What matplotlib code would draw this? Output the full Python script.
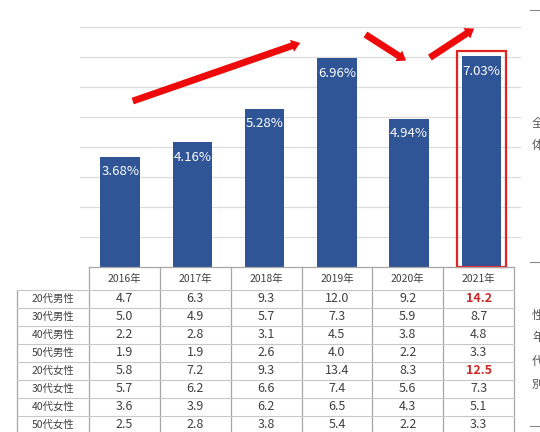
import matplotlib
matplotlib.use("Agg")
import matplotlib.pyplot as plt
from matplotlib.patches import Rectangle

plt.rcParams['font.family'] = ['Noto Sans CJK JP', 'DejaVu Sans']

years = ['2016年', '2017年', '2018年', '2019年', '2020年', '2021年']
rates = [3.68, 4.16, 5.28, 6.96, 4.94, 7.03]

groups = ['20代男性', '30代男性', '40代男性', '50代男性',
          '20代女性', '30代女性', '40代女性', '50代女性']
m20 = [4.7, 6.3, 9.3, 12.0, 9.2, 14.2]
m30 = [5.0, 4.9, 5.7, 7.3, 5.9, 8.7]
m40 = [2.2, 2.8, 3.1, 4.5, 3.8, 4.8]
m50 = [1.9, 1.9, 2.6, 4.0, 2.2, 3.3]
f20 = [5.8, 7.2, 9.3, 13.4, 8.3, 12.5]
f30 = [5.7, 6.2, 6.6, 7.4, 5.6, 7.3]
f40 = [3.6, 3.9, 6.2, 6.5, 4.3, 5.1]
f50 = [2.5, 2.8, 3.8, 5.4, 2.2, 3.3]
rows = [m20, m30, m40, m50, f20, f30, f40, f50]
# cells printed in red bold
highlight = [(0, 5), (4, 5)]

W, H = 540, 432
fig = plt.figure(figsize=(W / 100, H / 100), dpi=100)

# pixel layout of the chart / table block
left, right, base = 89, 514, 267
px_per_unit = 30.0
ax = fig.add_axes([left / W, 1 - base / H, (right - left) / W, base / H])
ax.set_xlim(-0.5, len(years) - 0.5)
ax.set_ylim(0, base / px_per_unit)
ax.axis('off')

# light gridlines every 1%, running a little past the plot on both sides
for g in range(1, 9):
    ax.plot([-0.63, 5.58], [g, g], color='#dcdcdc', lw=0.9, zorder=0, clip_on=False)

x = [i * 1.02 - 0.06 for i in range(len(years))]
ax.bar(x, rates, width=0.56, color='#2f5597', zorder=2)
for xi, r in zip(x, rates):
    ax.text(xi, r - 0.5, f'{r:.2f}%', color='white', ha='center', va='center',
            fontsize=9.5, zorder=3)

# box around the latest year
ax.add_patch(Rectangle((x[5] - 0.345, 0), 0.69, 7.2, fill=False, edgecolor='#e02424',
                       lw=1.6, zorder=4, clip_on=False))

# trend arrows
arrows = [((0.08, 5.5), (2.52, 7.5)),
          ((3.37, 7.8), (4.01, 6.83)),
          ((4.28, 6.93), (4.97, 8.0))]
for (x0, y0), (x1, y1) in arrows:
    ax.annotate('', xy=(x1, y1), xytext=(x0, y0), annotation_clip=False,
                arrowprops=dict(arrowstyle='simple,head_length=0.7,head_width=1.0,tail_width=0.55',
                                mutation_scale=9, color='#ee0a0a', lw=0))

# table drawn in pixel coordinates
tab = fig.add_axes([0, 0, 1, 1])
tab.set_xlim(0, W)
tab.set_ylim(H, 0)
tab.axis('off')

col_w = (right - left) / len(years)
col_edges = [left + col_w * k for k in range(len(years) + 1)]
head_bot = 290
row_h = 18
label_left = 17
table_bot = head_bot + row_h * len(groups)
line_c = '#a6a6a6'

tab.plot([left, right], [base, base], color=line_c, lw=0.9)
for ce in col_edges:
    tab.plot([ce, ce], [base, table_bot], color=line_c, lw=0.9)
tab.plot([label_left, label_left], [head_bot, table_bot], color=line_c, lw=0.9)
for k in range(len(groups) + 1):
    y = head_bot + row_h * k
    tab.plot([label_left, right], [y, y], color='#c8c8c8', lw=0.8)

for j, yr in enumerate(years):
    tab.text(col_edges[j] + col_w / 2, (base + head_bot) / 2, yr, ha='center', va='center',
             fontsize=7.5, color='#404040')
for i, (name, vals) in enumerate(zip(groups, rows)):
    yc = head_bot + row_h * (i + 0.5)
    tab.text((label_left + left) / 2, yc, name, ha='center', va='center',
             fontsize=7.5, color='#404040')
    for j, v in enumerate(vals):
        hot = (i, j) in highlight
        tab.text(col_edges[j] + col_w / 2, yc, f'{v:.1f}', ha='center', va='center',
                 fontsize=9, color='#d02828' if hot else '#404040',
                 fontweight='bold' if hot else 'normal')

# neighbouring text at the right edge, partly outside the frame
for ch, y in [('全', 124), ('体', 146), ('性', 315), ('年', 338), ('代', 361), ('別', 384)]:
    tab.text(532, y, ch, ha='left', va='center', fontsize=8.5, color='#555555')
for y in [10, 262, 426]:
    tab.plot([530, 541], [y, y], color='#888888', lw=0.8)

fig.savefig('out.png', dpi=100)
